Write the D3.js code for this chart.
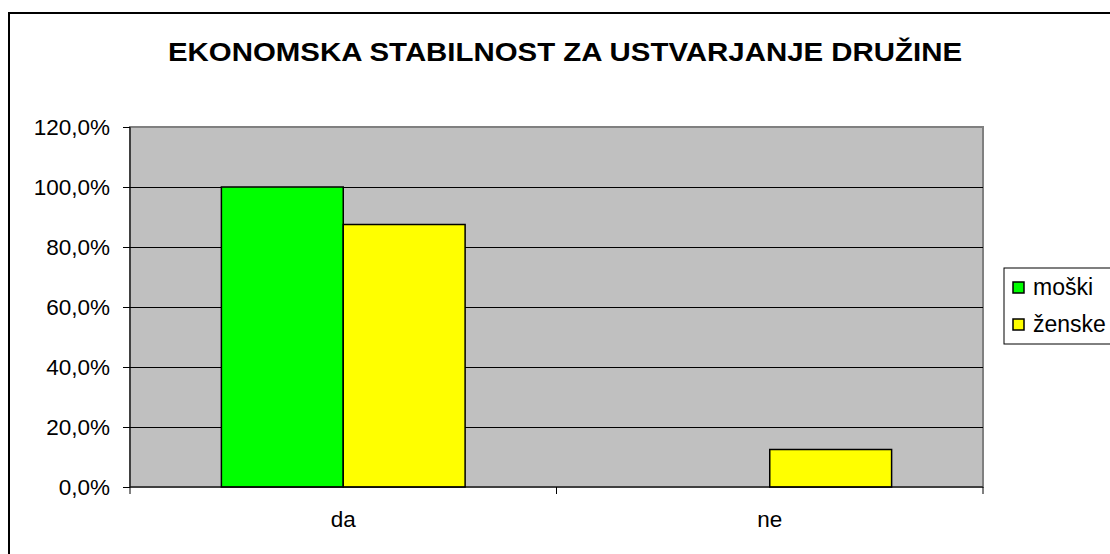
<!DOCTYPE html>
<html>
<head>
<meta charset="utf-8">
<title></title>
<style>
body{ margin:0; background:#fff; }
svg text{ font-family: "Liberation Sans", Arial, sans-serif; fill:#000; }
.bar{ stroke:#000; stroke-width:1.5px; }
</style>
<script src="https://cdn.jsdelivr.net/npm/d3@7"></script>
</head>
<body>
<div id="chart"></div>
<script>
var title = "EKONOMSKA STABILNOST ZA USTVARJANJE DRUŽINE";
var categories = ["da", "ne"];
var seriesNames = ["moški", "ženske"];
var seriesColors = ["#00ff00", "#ffff00"];
var moski = [100.0, 0.0];
var zenske = [87.5, 12.5];
var yTicks = [0, 20, 40, 60, 80, 100, 120];

var W = 1110, H = 554;
var plot = {left: 130, top: 127, right: 983, bottom: 487};

var svg = d3.select("#chart").append("svg")
	.attr("width", W)
	.attr("height", H);

// outer frame (right/bottom edges fall outside the window)
svg.append("rect")
	.attr("x", 9).attr("y", 13)
	.attr("width", 1110).attr("height", 560)
	.attr("fill", "#fff").attr("stroke", "#000").attr("stroke-width", 2);

svg.append("text")
	.attr("x", 565).attr("y", 61)
	.attr("text-anchor", "middle")
	.attr("textLength", 794)
	.attr("lengthAdjust", "spacingAndGlyphs")
	.style("font-size", "26px")
	.style("font-weight", "bold")
	.text(title);

var x0 = d3.scaleBand().domain(categories).range([plot.left, plot.right]).paddingInner(0).paddingOuter(0);
var x1 = d3.scaleBand().domain(seriesNames).range([0, x0.bandwidth()]).paddingInner(0).paddingOuter(0.75);
var y = d3.scaleLinear().domain([0, 120]).range([plot.bottom, plot.top]);

// plot background
svg.append("rect")
	.attr("x", plot.left).attr("y", plot.top)
	.attr("width", plot.right - plot.left).attr("height", plot.bottom - plot.top)
	.attr("fill", "#c0c0c0").attr("stroke", "#808080").attr("stroke-width", 2);

// gridlines
svg.append("g").selectAll("line")
	.data(yTicks.filter(function(d){ return d > 0 && d < 120; }))
	.enter().append("line")
	.attr("x1", plot.left).attr("x2", plot.right)
	.attr("y1", function(d){ return Math.round(y(d)) + 0.5; })
	.attr("y2", function(d){ return Math.round(y(d)) + 0.5; })
	.attr("stroke", "#000").attr("stroke-width", 1);

// bars
var rows = categories.map(function(c, i){
	return {cat: c, vals: [{s: seriesNames[0], v: moski[i], c: seriesColors[0]}, {s: seriesNames[1], v: zenske[i], c: seriesColors[1]}]};
});
var groups = svg.append("g").selectAll("g")
	.data(rows).enter().append("g")
	.attr("transform", function(d){ return "translate(" + x0(d.cat) + ",0)"; });
groups.selectAll("rect")
	.data(function(d){ return d.vals.filter(function(e){ return e.v > 0; }); })
	.enter().append("rect")
	.attr("class", "bar")
	.attr("x", function(d){ return x1(d.s); })
	.attr("width", x1.bandwidth())
	.attr("y", function(d){ return y(d.v); })
	.attr("height", function(d){ return y(0) - y(d.v); })
	.attr("fill", function(d){ return d.c; });

// y axis
var yAxis = d3.axisLeft(y).tickValues(yTicks).tickSize(7).tickPadding(13)
	.tickFormat(function(d){ return d3.format(".1f")(d).replace(".", ",") + "%"; });
var gy = svg.append("g").attr("transform", "translate(" + plot.left + ",0)").call(yAxis);
gy.selectAll("text").style("font-size", "22.5px").style("font-family", "'Liberation Sans', Arial, sans-serif").attr("fill", "#000").attr("dy", "0.35em");
gy.selectAll("line").attr("stroke", "#000");
gy.select(".domain").attr("stroke", "#000").attr("d", "M0," + plot.top + "V" + plot.bottom);

// x axis
var gx = svg.append("g").attr("transform", "translate(0," + plot.bottom + ")");
gx.append("line").attr("x1", plot.left).attr("x2", plot.right).attr("y1", 0).attr("y2", 0).attr("stroke", "#000");
var xTickPos = categories.map(function(c){ return x0(c); }).concat([plot.right]);
gx.selectAll(".xt").data(xTickPos).enter().append("line")
	.attr("x1", function(d){ return d; }).attr("x2", function(d){ return d; })
	.attr("y1", 0).attr("y2", 7).attr("stroke", "#000");
gx.selectAll(".xl").data(categories).enter().append("text")
	.attr("x", function(d){ return x0(d) + x0.bandwidth() / 2; })
	.attr("y", 40)
	.attr("text-anchor", "middle")
	.style("font-size", "22.5px")
	.text(function(d){ return d; });

// legend
var lg = svg.append("g");
lg.append("rect").attr("x", 1004).attr("y", 268).attr("width", 120).attr("height", 76)
	.attr("fill", "#fff").attr("stroke", "#000").attr("stroke-width", 1);
var li = lg.selectAll(".li").data(seriesNames).enter().append("g")
	.attr("transform", function(d, i){ return "translate(1013," + (282 + i * 37) + ")"; });
li.append("rect").attr("width", 11).attr("height", 11)
	.attr("fill", function(d, i){ return seriesColors[i]; })
	.attr("stroke", "#000").attr("stroke-width", 1.5);
li.append("text").attr("x", 20).attr("y", 13)
	.style("font-size", "23px")
	.text(function(d){ return d; });
</script>
</body>
</html>
